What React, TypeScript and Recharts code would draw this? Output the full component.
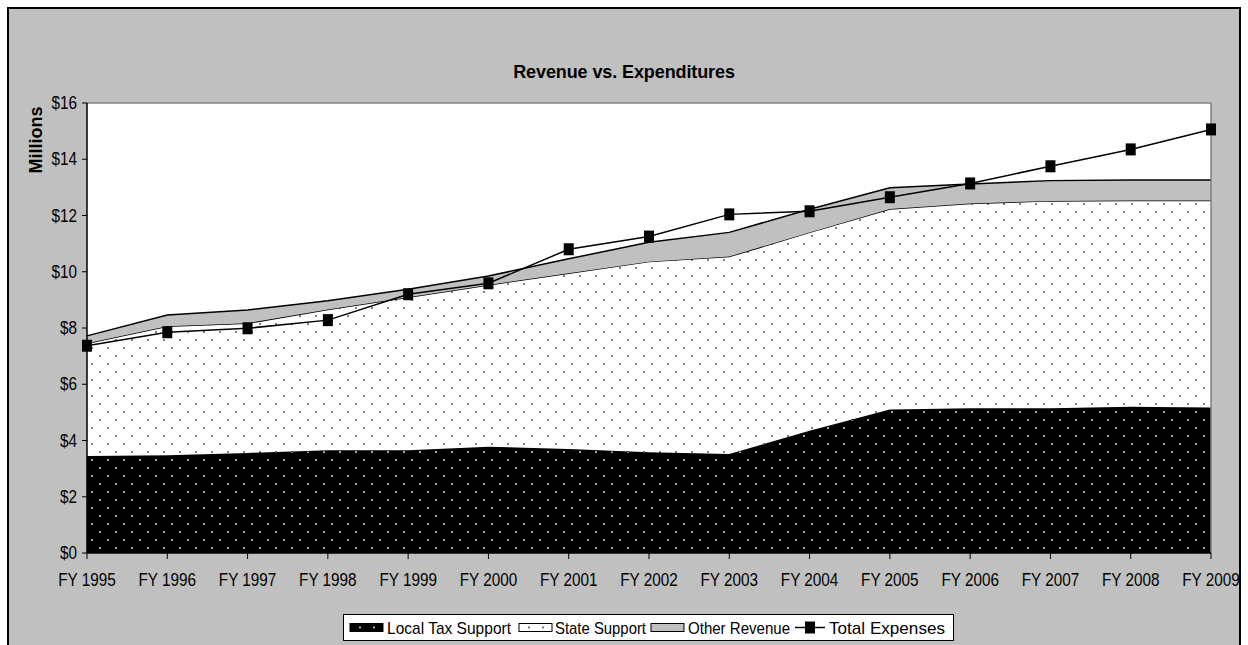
import React from 'react';
import {
  ComposedChart,
  Area,
  Line,
  XAxis,
  YAxis,
  CartesianGrid,
  ReferenceLine,
} from 'recharts';

const years = [
  'FY 1995', 'FY 1996', 'FY 1997', 'FY 1998', 'FY 1999', 'FY 2000', 'FY 2001', 'FY 2002',
  'FY 2003', 'FY 2004', 'FY 2005', 'FY 2006', 'FY 2007', 'FY 2008', 'FY 2009',
];
const localTax = [3.45, 3.48, 3.56, 3.65, 3.65, 3.78, 3.7, 3.58, 3.52, 4.35, 5.1, 5.15, 5.15, 5.2, 5.17];
const stateSupport = [4.01, 4.58, 4.61, 5.01, 5.44, 5.75, 6.25, 6.78, 7.02, 7.05, 7.13, 7.28, 7.37, 7.33, 7.36];
const otherRevenue = [0.26, 0.4, 0.47, 0.31, 0.29, 0.32, 0.51, 0.69, 0.86, 0.82, 0.76, 0.69, 0.72, 0.73, 0.73];
const totalExpenses = [7.37, 7.85, 7.99, 8.28, 9.2, 9.59, 10.8, 11.25, 12.04, 12.15, 12.65, 13.14, 13.75, 14.35, 15.06];
const yTicks = [0, 2, 4, 6, 8, 10, 12, 14, 16];

const data = years.map((fy, i) => ({
  fy,
  local: localTax[i],
  state: stateSupport[i],
  other: otherRevenue[i],
  expenses: totalExpenses[i],
}));

const ARIAL = '"Liberation Sans", Arial, sans-serif';
// no Arial Narrow available, so squeeze Liberation Sans horizontally
const SQUEEZE = 0.85;

const SquareDot = (props: any) => {
  const { cx, cy, index } = props;
  if (cx == null || cy == null) return null;
  return <rect key={`sq-${index}`} x={cx - 5} y={cy - 6} width={10} height={12} fill="#000" />;
};

const XTick = (props: any) => {
  const { x, y, payload } = props;
  return (
    <text
      transform={`translate(${x},${y + 21}) scale(${SQUEEZE},1)`}
      textAnchor="middle"
      fontFamily={ARIAL}
      fontSize={18}
      fill="#000"
    >
      {payload.value}
    </text>
  );
};

const YTick = (props: any) => {
  const { x, y, payload } = props;
  return (
    <text
      transform={`translate(${x},${y + 6}) scale(${SQUEEZE},1)`}
      textAnchor="end"
      fontFamily={ARIAL}
      fontSize={18}
      fill="#000"
    >
      {`$${payload.value}`}
    </text>
  );
};

function LegendBox() {
  const L = 343;
  const textProps = { fontFamily: ARIAL, fontSize: 17, fill: '#000', lengthAdjust: 'spacingAndGlyphs' as const };
  return (
    <svg style={{ position: 'absolute', left: L, top: 614 }} width={612} height={28}>
      <rect x={0.5} y={0.5} width={610} height={26} fill="#fff" stroke="#000" />
      <rect x={350 - L} y={9.5} width={33} height={8} fill="#000" stroke="#000" />
      <circle cx={360 - L} cy={13.5} r={1} fill="#ddd" />
      <circle cx={374 - L} cy={13.5} r={1} fill="#ddd" />
      <text x={387 - L} y={19.5} textLength={124} {...textProps}>Local Tax Support</text>
      <rect x={519 - L} y={9.5} width={33} height={8} fill="#fff" stroke="#000" />
      <circle cx={529 - L} cy={13.5} r={1} fill="#555" />
      <circle cx={543 - L} cy={13.5} r={1} fill="#555" />
      <text x={555 - L} y={19.5} textLength={91} {...textProps}>State Support</text>
      <rect x={651 - L} y={9.5} width={33} height={8} fill="#c0c0c0" stroke="#000" />
      <text x={688 - L} y={19.5} textLength={102} {...textProps}>Other Revenue</text>
      <line x1={795 - L} y1={13.5} x2={825 - L} y2={13.5} stroke="#000" strokeWidth={1.5} />
      <rect x={805 - L} y={7.5} width={10} height={12} fill="#000" />
      <text x={829 - L} y={19.5} textLength={116} {...textProps}>Total Expenses</text>
    </svg>
  );
}

export default function App() {
  return (
    <div style={{ position: 'absolute', left: 0, top: 0, width: 1248, height: 645, overflow: 'hidden', background: '#fff' }}>
      <div
        style={{
          position: 'absolute',
          left: 7,
          top: 7,
          width: 1234,
          height: 660,
          background: '#c0c0c0',
          border: '2px solid #000',
          boxSizing: 'border-box',
        }}
      />
      <div
        style={{
          position: 'absolute',
          left: 0,
          top: 61,
          width: 1248,
          textAlign: 'center',
          fontFamily: ARIAL,
          fontWeight: 'bold',
          fontSize: 18,
          letterSpacing: -0.1,
          lineHeight: '22px',
          color: '#000',
        }}
      >
        Revenue vs. Expenditures
      </div>
      <div
        style={{
          position: 'absolute',
          left: 36,
          top: 140,
          transform: 'translate(-50%, -50%) rotate(-90deg)',
          fontFamily: ARIAL,
          fontWeight: 'bold',
          fontSize: 18,
          lineHeight: '20px',
          whiteSpace: 'nowrap',
          color: '#000',
        }}
      >
        Millions
      </div>
      <div style={{ position: 'absolute', left: 0, top: 0 }}>
        <ComposedChart width={1248} height={645} data={data} margin={{ top: 103, right: 37, left: 27, bottom: 62 }}>
          <defs>
            <pattern id="dotsDark" width={16} height={16} patternUnits="userSpaceOnUse">
              <rect width={16} height={16} fill="#000" />
              <circle cx={4} cy={4} r={1} fill="#ddd" />
              <circle cx={12} cy={12} r={1} fill="#ddd" />
            </pattern>
            <pattern id="dotsLight" width={16} height={16} patternUnits="userSpaceOnUse">
              <rect width={16} height={16} fill="#fff" />
              <circle cx={4} cy={4} r={1} fill="#555" />
              <circle cx={12} cy={12} r={1} fill="#555" />
            </pattern>
          </defs>
          <CartesianGrid fill="#fff" horizontal={false} vertical={false} />
          <XAxis
            dataKey="fy"
            scale="point"
            padding={{ left: 0, right: 0 }}
            interval={0}
            height={30}
            tickSize={6}
            tickMargin={6}
            axisLine={{ stroke: '#000', strokeWidth: 1.5 }}
            tickLine={{ stroke: '#000' }}
            tick={<XTick />}
          />
          <YAxis
            domain={[0, 16]}
            ticks={yTicks}
            interval={0}
            width={60}
            tickSize={5}
            tickMargin={5}
            axisLine={{ stroke: '#000', strokeWidth: 1.5 }}
            tickLine={{ stroke: '#000' }}
            tick={<YTick />}
          />
          <ReferenceLine y={16} stroke="#808080" strokeWidth={1.5} />
          <ReferenceLine x="FY 2009" stroke="#808080" strokeWidth={1.5} />
          <Area
            type="linear"
            dataKey="local"
            stackId="rev"
            fill="url(#dotsDark)"
            fillOpacity={1}
            stroke="#000"
            strokeWidth={1.5}
            isAnimationActive={false}
          />
          <Area
            type="linear"
            dataKey="state"
            stackId="rev"
            fill="url(#dotsLight)"
            fillOpacity={1}
            stroke="#000"
            strokeWidth={1.5}
            isAnimationActive={false}
          />
          <Area
            type="linear"
            dataKey="other"
            stackId="rev"
            fill="#c0c0c0"
            fillOpacity={1}
            stroke="#000"
            strokeWidth={1.5}
            isAnimationActive={false}
          />
          <Line
            type="linear"
            dataKey="expenses"
            stroke="#000"
            strokeWidth={1.5}
            dot={SquareDot}
            activeDot={false}
            isAnimationActive={false}
          />
        </ComposedChart>
      </div>
      <LegendBox />
    </div>
  );
}
